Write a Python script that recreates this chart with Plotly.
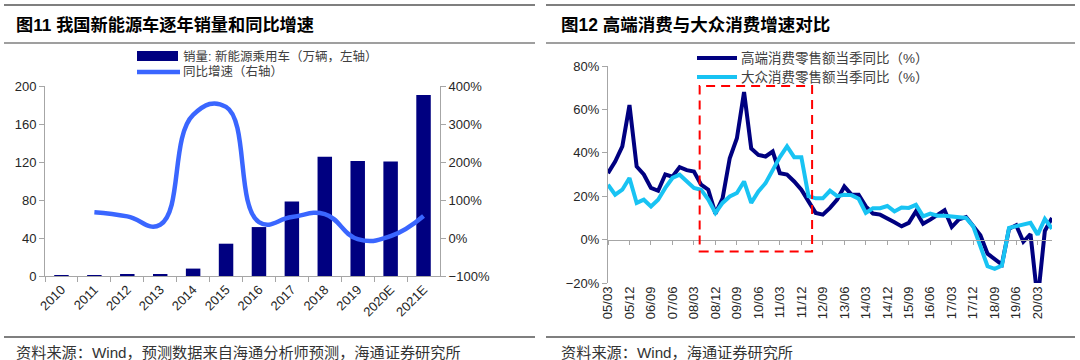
import plotly.graph_objects as go

# ---------------- data: left chart ----------------
years = ["2010", "2011", "2012", "2013", "2014", "2015", "2016", "2017",
         "2018", "2019", "2020E", "2021E"]
sales = [0.8, 0.8, 1.3, 1.8, 7.8, 34.0, 51.5, 78.5, 125.5, 121.0, 120.5, 190.5]   # 万辆
growth = [None, 68, 57, 35, 324, 345, 42, 55, 63, -3, 5, 58]                       # %

# ---------------- data: right chart ----------------
quarters = [f"{y:02d}/{m:02d}" for y in range(5, 21) for m in (3, 6, 9, 12)][:63]
high_end = [30.6, 36, 43, 62, 33.7, 30, 23.8, 22.5, 30, 29,
            33.4, 32, 31.4, 25.3, 23, 12, 19, 37.5, 46.7, 68,
            42, 39, 38.3, 40.6, 30.6, 30, 26.8, 23, 17.6, 12.3,
            11.5, 14.6, 18.4, 24.5, 20.7, 20.7, 15.3, 12, 11.5, 10,
            8, 6.1, 7.7, 13, 7.3, 9.2, 11.5, 13.5, 5.8, 9.3,
            10.4, 6, 2, -6.5, -8.8, -11.5, 5, 6.6, -1, 2.5,
            -28, 4, 10]
mass = [25.3, 20.7, 23, 28.4, 16.9, 18.4, 15.3, 18.4, 23.8, 28.4,
        29.9, 26.8, 23.8, 23, 18.4, 12.3, 16.9, 19.9, 21.5, 26.8,
        16.9, 22.2, 26, 32, 38, 43, 38, 38, 20, 19,
        19, 22.5, 20, 20.7, 20.5, 18.8, 12.3, 14.4, 14.5, 15.5,
        13, 14.8, 14.6, 16, 10.7, 12, 11, 11, 10.7, 10.4,
        10, 6.1, -3, -12.3, -13.5, -12, 5.4, 6.1, 6.9, 7.7,
        2.3, 9.5, 5]
q_ticks = quarters[::3]

W, H = 1080, 360
def px(x):
    return x / W
def py(y):
    return 1 - y / H

NAVY = "#000080"
BLUE = "#3A66FF"
CYAN = "#18C3F3"
GRAY = "#A6A6A6"
TXT = "#262626"
FONT = "Liberation Sans, Noto Sans CJK SC, sans-serif"

fig = go.Figure()
fig.add_trace(go.Bar(x=years, y=sales, marker=dict(color=NAVY, line=dict(width=0)),
                     width=0.44, xaxis="x", yaxis="y", showlegend=False,
                     name="销量:新能源乘用车（万辆，左轴）"))
fig.add_trace(go.Scatter(x=years, y=growth, mode="lines", connectgaps=False,
                         line=dict(color=BLUE, width=4.5, shape="spline", smoothing=1.3),
                         xaxis="x", yaxis="y2", showlegend=False, name="同比增速（右轴）"))
fig.add_trace(go.Scatter(x=quarters, y=high_end, mode="lines",
                         line=dict(color=NAVY, width=4),
                         xaxis="x2", yaxis="y3", showlegend=False,
                         name="高端消费零售额当季同比（%）"))
fig.add_trace(go.Scatter(x=quarters, y=mass, mode="lines",
                         line=dict(color=CYAN, width=4),
                         xaxis="x2", yaxis="y3", showlegend=False,
                         name="大众消费零售额当季同比（%）"))
# invisible carrier for the tick axis drawn at 0%
fig.add_trace(go.Scatter(x=quarters, y=high_end, mode="lines", line=dict(width=0, color="rgba(0,0,0,0)"),
                         xaxis="x3", yaxis="y3", showlegend=False, hoverinfo="skip"))

axis_common = dict(showgrid=False, zeroline=False, showline=True, linecolor=GRAY, linewidth=1,
                   ticks="outside", tickcolor=GRAY, ticklen=5, tickfont=dict(size=13, color=TXT))

zero_pos = py(283) + (py(66) - py(283)) * 0.2

fig.update_layout(
    width=W, height=H, margin=dict(l=0, r=0, t=0, b=0, autoexpand=False),
    paper_bgcolor="white", plot_bgcolor="white",
    font=dict(family=FONT, color=TXT),
    xaxis=dict(domain=[px(45), px(440)], anchor="y", type="category", tickangle=-45,
               tickson="boundaries", **axis_common),
    yaxis=dict(domain=[py(276), py(86)], anchor="x", range=[0, 200], dtick=40, **axis_common),
    yaxis2=dict(overlaying="y", side="right", anchor="x", range=[-100, 400], dtick=100,
                ticksuffix="%", **axis_common),
    xaxis2=dict(domain=[px(608), px(1052)], anchor="y3", type="category", range=[0, 62],
                tickmode="array", tickvals=q_ticks, ticktext=q_ticks, tickangle=-90,
                showgrid=False, zeroline=False, showline=False, ticks="",
                tickfont=dict(size=13, color=TXT)),
    xaxis3=dict(overlaying="x2", matches="x2", anchor="free", position=zero_pos, type="category",
                tickmode="array", tickvals=q_ticks, showticklabels=False,
                showgrid=False, zeroline=False, showline=True, linecolor=GRAY, linewidth=1,
                ticks="outside", tickcolor=GRAY, ticklen=4),
    yaxis3=dict(domain=[py(283), py(66)], anchor="x2", range=[-20, 80], dtick=20,
                ticksuffix="%", **axis_common),
)

shapes = []
# separator lines
for (x0, x1) in [(4, 535), (546, 1075)]:
    shapes.append(dict(type="line", xref="paper", yref="paper", x0=px(x0), x1=px(x1),
                       y0=py(5), y1=py(5), line=dict(color="#7F7F7F", width=2)))
    shapes.append(dict(type="line", xref="paper", yref="paper", x0=px(x0), x1=px(x1),
                       y0=py(43), y1=py(43), line=dict(color="#7F7F7F", width=1.5)))
    shapes.append(dict(type="line", xref="paper", yref="paper", x0=px(x0), x1=px(x1),
                       y0=py(337), y1=py(337), line=dict(color="#7F7F7F", width=2)))
# left legend swatches
shapes.append(dict(type="rect", xref="paper", yref="paper", x0=px(137), x1=px(178),
                   y0=py(61), y1=py(51), fillcolor=NAVY, line=dict(width=0)))
shapes.append(dict(type="line", xref="paper", yref="paper", x0=px(137), x1=px(180),
                   y0=py(72), y1=py(72), line=dict(color=BLUE, width=4.5)))
# right legend swatches
shapes.append(dict(type="line", xref="paper", yref="paper", x0=px(697), x1=px(737),
                   y0=py(58), y1=py(58), line=dict(color=NAVY, width=4)))
shapes.append(dict(type="line", xref="paper", yref="paper", x0=px(697), x1=px(737),
                   y0=py(77), y1=py(77), line=dict(color=CYAN, width=4)))
# highlight box
shapes.append(dict(type="rect", xref="x2", yref="y3", x0=12.8, x1=28.5, y0=-5.5, y1=70.8,
                   line=dict(color="#FF0000", width=2, dash="9px,6px"), fillcolor="rgba(0,0,0,0)"))

annotations = []
def note(x, y, text, size, color=TXT, bold=False):
    annotations.append(dict(xref="paper", yref="paper", x=px(x), y=py(y), xanchor="left",
                            yanchor="middle", showarrow=False, borderpad=0,
                            text=f"<b>{text}</b>" if bold else text,
                            font=dict(size=size, color=color, family=FONT)))

note(15, 25, "图11 我国新能源车逐年销量和同比增速", 17.2, "#000000", True)
note(560, 25, "图12 高端消费与大众消费增速对比", 17.5, "#000000", True)
note(182, 56, "销量: 新能源乘用车（万辆，左轴）", 12.5, "#404040")
note(182, 72, "同比增速（右轴）", 12.5, "#404040")
note(740, 58, "高端消费零售额当季同比（%）", 13.5, "#404040")
note(740, 77, "大众消费零售额当季同比（%）", 13.5, "#404040")
note(15, 352, "资料来源：Wind，预测数据来自海通分析师预测，海通证券研究所", 15.2, "#333333")
note(560, 352, "资料来源：Wind，海通证券研究所", 15.2, "#333333")

fig.update_layout(shapes=shapes, annotations=annotations)

post = ("document.documentElement.style.margin='0';document.documentElement.style.padding='0';"
        "document.documentElement.style.overflow='hidden';"
        "document.body.style.margin='0';document.body.style.padding='0';"
        "document.body.style.overflow='hidden';document.body.style.fontSize='0';"
        "document.body.style.lineHeight='0';")
fig.write_html("out.html", config={"displayModeBar": False}, post_script=post)
